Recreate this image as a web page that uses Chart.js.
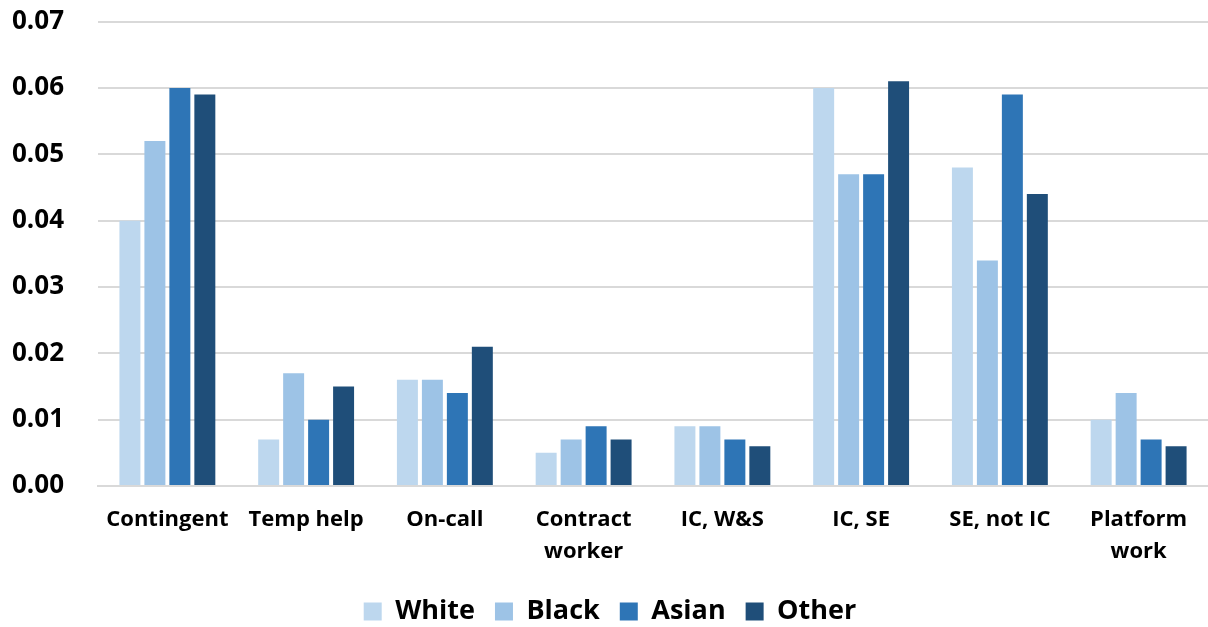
<!DOCTYPE html>
<html>
<head>
<meta charset="utf-8">
<script src="https://cdn.jsdelivr.net/npm/chart.js@4/dist/chart.umd.min.js"></script>
<style>
  html, body { margin: 0; padding: 0; background: #fff; }
  #wrap { width: 1208px; height: 627px; position: relative; }
</style>
</head>
<body>
<div id="wrap"><canvas id="c"></canvas></div>
<script>
// Work arrangement categories
const categories = [
  'Contingent', 'Temp help', 'On-call', ['Contract', 'worker'],
  'IC, W&S', 'IC, SE', 'SE, not IC', ['Platform', 'work']
];

// Share of workers in each arrangement, by race
const seriesNames = ['White', 'Black', 'Asian', 'Other'];
const white = [0.040, 0.007, 0.016, 0.005, 0.009, 0.060, 0.048, 0.010];
const black = [0.052, 0.017, 0.016, 0.007, 0.009, 0.047, 0.034, 0.014];
const asian = [0.060, 0.010, 0.014, 0.009, 0.007, 0.047, 0.059, 0.007];
const other = [0.059, 0.015, 0.021, 0.007, 0.006, 0.061, 0.044, 0.006];

const colors = ['#BDD7EE', '#9DC3E6', '#2E75B6', '#1F4E79'];
const seriesValues = [white, black, asian, other];

const FONT = 'Open Sans, Lato, sans-serif';

new Chart(document.getElementById('c'), {
  type: 'bar',
  data: {
    labels: categories,
    datasets: seriesNames.map((name, i) => ({
      label: name,
      data: seriesValues[i],
      backgroundColor: colors[i],
      categoryPercentage: 0.72,
      barPercentage: 0.84
    }))
  },
  options: {
    responsive: true,
    maintainAspectRatio: false,
    animation: false,
    layout: { padding: { top: 0, right: 0, left: 12, bottom: -8 } },
    plugins: {
      tooltip: { enabled: false },
      legend: {
        position: 'bottom',
        labels: {
          color: '#000',
          font: { family: FONT, size: 27, weight: 'bold' },
          boxWidth: 18,
          boxHeight: 18,
          padding: 20
        }
      }
    },
    scales: {
      x: {
        afterFit: (axis) => { axis.height = 92; },
        grid: { display: false, drawTicks: false },
        border: { display: true, color: '#D9D9D9', width: 2 },
        ticks: {
          color: '#000',
          font: { family: FONT, size: 22, weight: 'bold', lineHeight: 1.45 },
          maxRotation: 0,
          autoSkip: false,
          padding: 18
        }
      },
      y: {
        min: 0,
        max: 0.07,
        afterFit: (axis) => { axis.width = 86; },
        grid: { color: '#D9D9D9', lineWidth: 2, drawTicks: false },
        border: { display: false },
        ticks: {
          stepSize: 0.01,
          color: '#000',
          font: { family: FONT, size: 26, weight: 'bold' },
          padding: 6,
          crossAlign: 'far',
          callback: (v) => Number(v).toFixed(2)
        }
      }
    }
  }
});
</script>
</body>
</html>
